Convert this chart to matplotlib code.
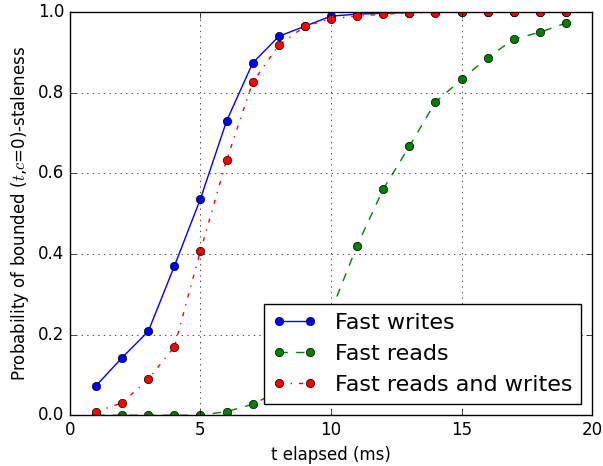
import numpy as np
import matplotlib
matplotlib.use('Agg')
import matplotlib.pyplot as plt

plt.style.use('classic')

t_elapsed = np.arange(1, 20)

fast_writes = [0.073, 0.143, 0.208, 0.370, 0.537, 0.730, 0.874, 0.940, 0.965, 0.990,
               0.995, 0.997, 0.999, 1.0, 1.0, 1.0, 1.0, 1.0, 1.0]
fast_reads = [0.0, 0.0, 0.0, 0.0, 0.0, 0.009, 0.027, 0.06, 0.12, 0.258,
              0.421, 0.561, 0.667, 0.777, 0.833, 0.887, 0.933, 0.950, 0.973]
fast_both = [0.008, 0.031, 0.089, 0.170, 0.408, 0.633, 0.826, 0.918, 0.965, 0.984,
             0.990, 0.995, 0.998, 0.999, 1.0, 1.0, 1.0, 1.0, 1.0]

fig = plt.figure(figsize=(6.03, 4.66), dpi=100)
ax = fig.add_subplot(111)
fig.subplots_adjust(left=0.116, right=0.982, bottom=0.109, top=0.974)

ax.plot(t_elapsed, fast_writes, 'bo-', label='Fast writes')
ax.plot(t_elapsed, fast_reads, 'go--', label='Fast reads')
ax.plot(t_elapsed, fast_both, 'ro-.', label='Fast reads and writes')

ax.set_xlim(0, 20)
ax.set_ylim(0, 1)
ax.set_xlabel('t elapsed (ms)')
ax.set_ylabel(r'Probability of bounded ($t$,$c$=0)-staleness')
ax.grid(True)
ax.legend(loc='lower right', fontsize=16)

fig.savefig('out.png', dpi=100)
